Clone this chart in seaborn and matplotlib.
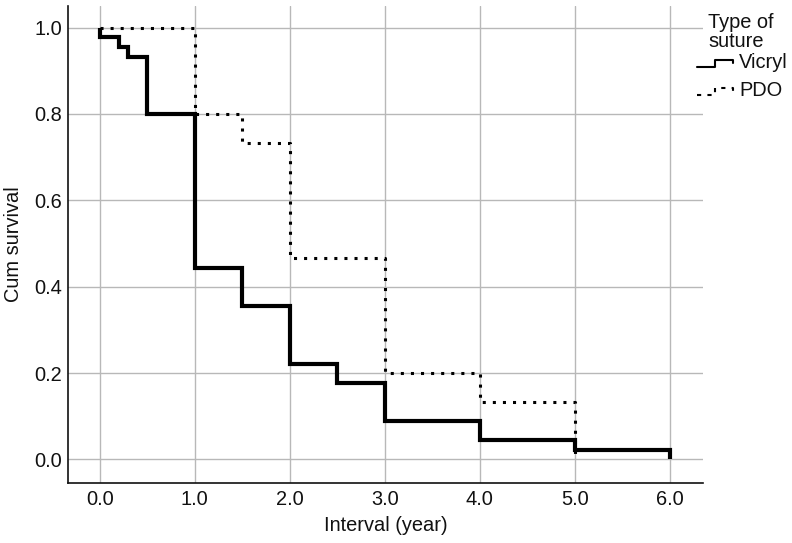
import matplotlib
matplotlib.use("Agg")
import matplotlib.pyplot as plt
import seaborn as sns
import pandas as pd
from matplotlib.legend_handler import HandlerBase
from matplotlib.lines import Line2D

# ---- data ----
vicryl_time = [0.0, 0.0, 0.2, 0.3, 0.5, 1.0, 1.5, 2.0, 2.5, 3.0, 4.0, 5.0, 6.0]
vicryl_surv = [1.0, 0.978, 0.956, 0.933, 0.8, 0.444, 0.356, 0.222, 0.178, 0.089, 0.044, 0.022, 0.0]
pdo_time = [0.0, 1.0, 1.5, 2.0, 3.0, 4.0, 5.0]
pdo_surv = [1.0, 0.8, 0.733, 0.467, 0.2, 0.133, 0.0]
x_ticks = [0, 1, 2, 3, 4, 5, 6]
x_ticklabels = ["0.0", "1.0", "2.0", "3.0", "4.0", "5.0", "6.0"]
y_ticks = [0.0, 0.2, 0.4, 0.6, 0.8, 1.0]
y_ticklabels = ["0.0", "0.2", "0.4", "0.6", "0.8", "1.0"]
legend_title = "Type of\nsuture"
legend_labels = ["Vicryl", "PDO"]

sns.set_theme(style="white")
plt.rcParams['font.family'] = ['Liberation Sans', 'DejaVu Sans']

FS = 14.4
W, H = 792, 543
fig = plt.figure(figsize=(7.92, 5.43), dpi=100)
ax = fig.add_axes([68.3 / W, (H - 482.7) / H, (703 - 68.3) / W, (482.7 - 6) / H])

df_v = pd.DataFrame({"t": vicryl_time, "s": vicryl_surv})
df_p = pd.DataFrame({"t": pdo_time, "s": pdo_surv})

dot_style = (0, (1, 2.3))
sns.lineplot(data=df_v, x="t", y="s", ax=ax, estimator=None, sort=False,
             drawstyle="steps-post", color="black", linewidth=3.0,
             solid_joinstyle="miter", solid_capstyle="butt", zorder=4)
sns.lineplot(data=df_p, x="t", y="s", ax=ax, estimator=None, sort=False,
             drawstyle="steps-post", color="black", linewidth=2.2,
             linestyle=dot_style, dash_capstyle="butt", zorder=3)

ax.set_xlim(-0.33, 6.35)
ax.set_ylim(-0.054, 1.05)
ax.set_xticks(x_ticks)
ax.set_xticklabels(x_ticklabels)
ax.set_yticks(y_ticks)
ax.set_yticklabels(y_ticklabels)
ax.grid(True, color="#b8b8b8", linewidth=1.0)
ax.set_axisbelow(True)
for side in ["top", "right"]:
    ax.spines[side].set_visible(False)
for side in ["left", "bottom"]:
    ax.spines[side].set_color("#111111")
    ax.spines[side].set_linewidth(1.2)
ax.tick_params(axis="x", length=0, labelsize=FS, colors="#111111", pad=5)
ax.tick_params(axis="y", length=0, labelsize=FS, colors="#111111", pad=4.5)
ax.set_xlabel("Interval (year)", fontsize=FS, color="#111111", labelpad=5)
ax.set_ylabel("Cum survival", fontsize=FS, color="#111111", labelpad=8)


class StepHandler(HandlerBase):
    def __init__(self, ls, lw):
        super().__init__()
        self.ls = ls
        self.lw = lw

    def create_artists(self, legend, orig_handle, xdescent, ydescent, width, height, fontsize, trans):
        xs = [-xdescent + width * f for f in (0.0, 0.5, 0.5, 1.0, 1.0)]
        ys = [-ydescent + height * f for f in (0.1, 0.1, 0.6, 0.6, 0.35)]
        ln = Line2D(xs, ys, color="black", linestyle=self.ls, linewidth=self.lw,
                    transform=trans)
        if self.ls != "-":
            ln.set_dash_capstyle("butt")
        return [ln]


fig.text(708 / W, 1 - 13 / H, legend_title, ha="left", va="top", fontsize=FS,
         color="#111111", linespacing=1.0)

h_v = Line2D([], [], color="black")
h_p = Line2D([], [], color="black", linestyle=":")
leg = fig.legend([h_v, h_p], legend_labels,
                 loc="upper left", bbox_to_anchor=(697 / W, 1 - 53 / H), frameon=False,
                 fontsize=FS, handlelength=1.8, handleheight=0.7,
                 handletextpad=0.3, labelspacing=0.45, borderaxespad=0.0, borderpad=0.0,
                 handler_map={h_v: StepHandler("-", 1.5),
                              h_p: StepHandler((0, (2.0, 3.0)), 1.5)})
for t in leg.get_texts():
    t.set_color("#111111")

fig.savefig("out.png", dpi=100)
